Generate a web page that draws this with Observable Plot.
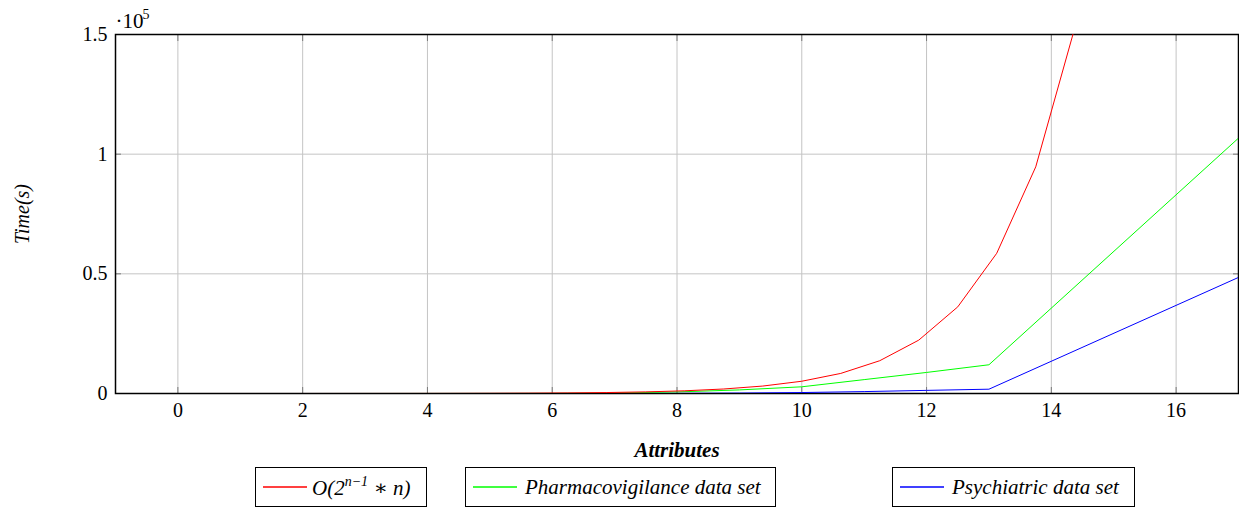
<!DOCTYPE html>
<html><head><meta charset="utf-8">
<script src="https://cdn.jsdelivr.net/npm/d3@7"></script>
<script src="https://cdn.jsdelivr.net/npm/@observablehq/plot@0.6"></script>
<style>
body{margin:0;background:#fff;}
#wrap{position:relative;width:1239px;height:508px;font-family:"Liberation Serif","Times New Roman","DejaVu Serif",serif;overflow:hidden;}
.lg{position:absolute;top:467px;height:40px;border:1px solid #000;box-sizing:border-box;font-style:italic;font-size:21px;color:#000;white-space:nowrap;background:#fff;}
.lg svg{position:absolute;left:7px;top:14px;}
.lg .tx{position:absolute;top:7px;}
.lg sup{font-size:14px;position:relative;top:-1px;}
</style></head>
<body>
<div id="wrap"><div id="chart"></div></div>
<script>
// Complexity reference O(2^(n-1)*n), sampled
const redX = [0,0.625,1.25,1.875,2.5,3.125,3.75,4.375,5,5.625,6.25,6.875,7.5,8.125,8.75,9.375,10,10.625,11.25,11.875,12.5,13.125,13.75,14.375,15];
const redY = [0,0.5,1.5,3.4,7,14,25,45,80,139,238,404,679,1134,1884,3113,5120,8390,13700,22300,36200,58600,94700,152700,245800];
// Pharmacovigilance data set
const greenX = [0,1,2,3,4,5,6,7,8,9,10,11,12,13,17];
const greenY = [0,0,0,5,10,20,50,180,650,1500,2800,5800,8800,12000,106700];
// Psychiatric data set
const blueX = [0,1,2,3,4,5,6,7,8,9,10,11,12,13,17];
const blueY = [0,0,0,0,0,5,10,20,60,180,400,800,1300,1800,48500];

const xTicks = [0,2,4,6,8,10,12,14,16];
const yTicks = [0,50000,100000,150000];
const yTickLabels = ["0","0.5","1","1.5"];

const seriesNames = ["O(2^(n-1)*n)","Pharmacovigilance data set","Psychiatric data set"];
const seriesColors = ["#ff0000","#00ff00","#0000ff"];

const toRows = (xs, ys) => xs.map((x, i) => ({x, y: ys[i]}));
const rowsRed = toRows(redX, redY);
const rowsGreen = toRows(greenX, greenY);
const rowsBlue = toRows(blueX, blueY);

const FONT = "'Liberation Serif', 'Times New Roman', 'DejaVu Serif', serif";
const tickStroke = "#7a7a7a";
const chart = Plot.plot({
  width: 1239, height: 458,
  marginLeft: 115, marginRight: 1, marginTop: 34, marginBottom: 65,
  x: {domain: [-1, 17]},
  y: {domain: [0, 150000]},
  style: {fontFamily: FONT, fontSize: "20px", color: "#000", background: "#fff", overflow: "visible"},
  marks: [
    Plot.gridX(xTicks, {stroke: "#c4c4c4", strokeOpacity: 1, strokeWidth: 1}),
    Plot.gridY(yTicks, {stroke: "#c4c4c4", strokeOpacity: 1, strokeWidth: 1}),
    Plot.axisX(xTicks, {anchor: "bottom", tickSize: 0, tickPadding: 9, label: null, fontSize: 20, fontFamily: FONT}),
    Plot.axisY(yTicks, {anchor: "left", tickSize: 0, tickPadding: 8, label: null, fontSize: 20, fontFamily: FONT,
      tickFormat: (d) => yTickLabels[yTicks.indexOf(d)]}),
    Plot.axisX(xTicks, {anchor: "bottom", tickSize: -6, stroke: tickStroke, tickFormat: () => "", label: null}),
    Plot.axisX(xTicks, {anchor: "top", tickSize: -6, stroke: tickStroke, tickFormat: () => "", label: null}),
    Plot.axisY(yTicks, {anchor: "left", tickSize: -6, stroke: tickStroke, tickFormat: () => "", label: null}),
    Plot.axisY(yTicks, {anchor: "right", tickSize: -6, stroke: tickStroke, tickFormat: () => "", label: null}),
    Plot.frame({stroke: "#000", strokeWidth: 1.5}),
    Plot.line(rowsGreen, {x: "x", y: "y", stroke: seriesColors[1], strokeWidth: 1, clip: true}),
    Plot.line(rowsBlue, {x: "x", y: "y", stroke: seriesColors[2], strokeWidth: 1, clip: true}),
    Plot.line(rowsRed, {x: "x", y: "y", stroke: seriesColors[0], strokeWidth: 1, clip: true}),
    Plot.text(["·10"], {frameAnchor: "top-left", dx: 0, dy: -7, textAnchor: "start", lineAnchor: "bottom", fontSize: 21, fontFamily: FONT}),
    Plot.text(["5"], {frameAnchor: "top-left", dx: 27, dy: -16, textAnchor: "start", lineAnchor: "bottom", fontSize: 14, fontFamily: FONT}),
    Plot.text(["Time(s)"], {frameAnchor: "left", dx: -93, rotate: -90, textAnchor: "middle", fontStyle: "italic", fontSize: 20, fontFamily: FONT}),
    Plot.text(["Attributes"], {frameAnchor: "bottom", dy: 63, textAnchor: "middle", lineAnchor: "bottom", fontStyle: "italic", fontWeight: "bold", fontSize: 21, fontFamily: FONT})
  ]
});
document.getElementById("chart").appendChild(chart);

// Legend boxes below the SVG
const wrap = document.getElementById("wrap");
const legendBoxes = [
  {left: 255, width: 172, textLeft: 56, html: 'O(2<sup>n−1</sup> ∗ n)'},
  {left: 465, width: 311, textLeft: 59, html: seriesNames[1]},
  {left: 892, width: 243, textLeft: 59, html: seriesNames[2]}
];
legendBoxes.forEach((b, i) => {
  const d = document.createElement("div");
  d.className = "lg";
  d.style.left = b.left + "px";
  d.style.width = b.width + "px";
  d.innerHTML = '<svg width="46" height="10"><line x1="0" x2="44" y1="5" y2="5" stroke="' +
    seriesColors[i] + '" stroke-width="1.4"/></svg>';
  const tx = document.createElement("div");
  tx.className = "tx";
  tx.style.left = b.textLeft + "px";
  tx.innerHTML = b.html;
  d.appendChild(tx);
  wrap.appendChild(d);
});
</script>
</body></html>
